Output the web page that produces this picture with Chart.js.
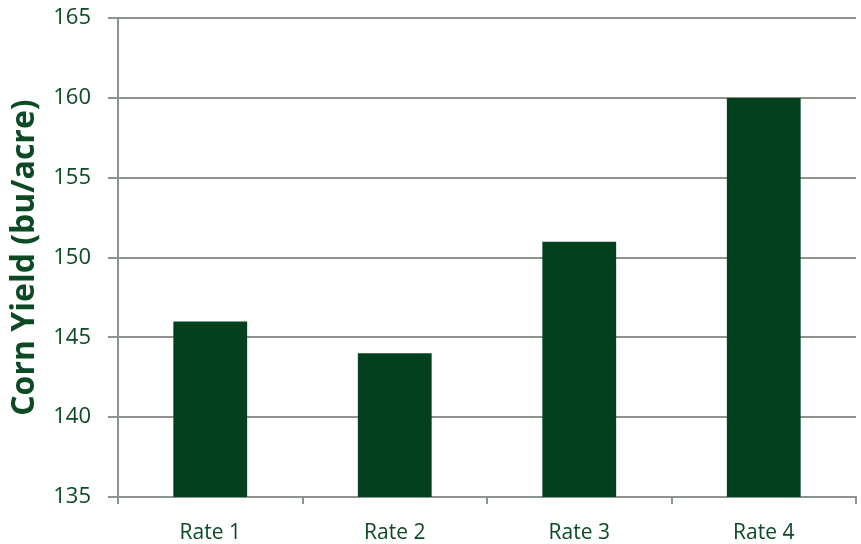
<!DOCTYPE html>
<html>
<head>
<meta charset="utf-8">
<script src="https://cdn.jsdelivr.net/npm/chart.js@4"></script>
<style>
html,body{margin:0;padding:0;background:#fff;overflow:hidden;}
#wrap{width:861px;height:544px;position:relative;overflow:hidden;}
#c{position:absolute;left:0;top:-12px;}
</style>
</head>
<body>
<div id="wrap"><canvas id="c" width="861" height="556"></canvas></div>
<script>
const categories = ["Rate 1", "Rate 2", "Rate 3", "Rate 4"];
const cornYield = [146, 144, 151, 160];
const yTicks = [135, 140, 145, 150, 155, 160, 165];

const textColor = "#0b4a24";
const barColor = "#03411e";
const gridColor = "#8d948d";

new Chart(document.getElementById("c"), {
  type: "bar",
  data: {
    labels: categories,
    datasets: [{
      label: "Corn Yield",
      data: cornYield,
      backgroundColor: barColor,
      borderWidth: 0,
      barPercentage: 0.4,
      categoryPercentage: 1.0
    }]
  },
  options: {
    responsive: false,
    animation: false,
    layout: { padding: { top: 5, right: 5, left: 0, bottom: 0 } },
    plugins: { legend: { display: false }, tooltip: { enabled: false } },
    scales: {
      x: {
        grid: { drawOnChartArea: false, drawTicks: true, tickLength: 7, color: gridColor, lineWidth: 2 },
        border: { color: gridColor, width: 2 },
        ticks: { color: textColor, font: { family: "Open Sans", size: 21 }, padding: 16 },
        afterFit: (s) => { s.height = 47; }
      },
      y: {
        min: 135, max: 165,
        afterBuildTicks: (s) => { s.ticks = yTicks.map(v => ({ value: v })); },
        grid: { color: gridColor, lineWidth: 2, tickLength: 10 },
        border: { color: gridColor, width: 2 },
        ticks: { color: textColor, font: { family: "Open Sans", size: 22 }, padding: 17 },
        title: {
          display: true,
          text: "Corn Yield (bu/acre)",
          color: textColor,
          font: { family: "Open Sans", size: 32, weight: "bold" },
          padding: { top: 6, bottom: 0 }
        },
        afterFit: (s) => { s.width = 118; }
      }
    }
  }
});
</script>
</body>
</html>
